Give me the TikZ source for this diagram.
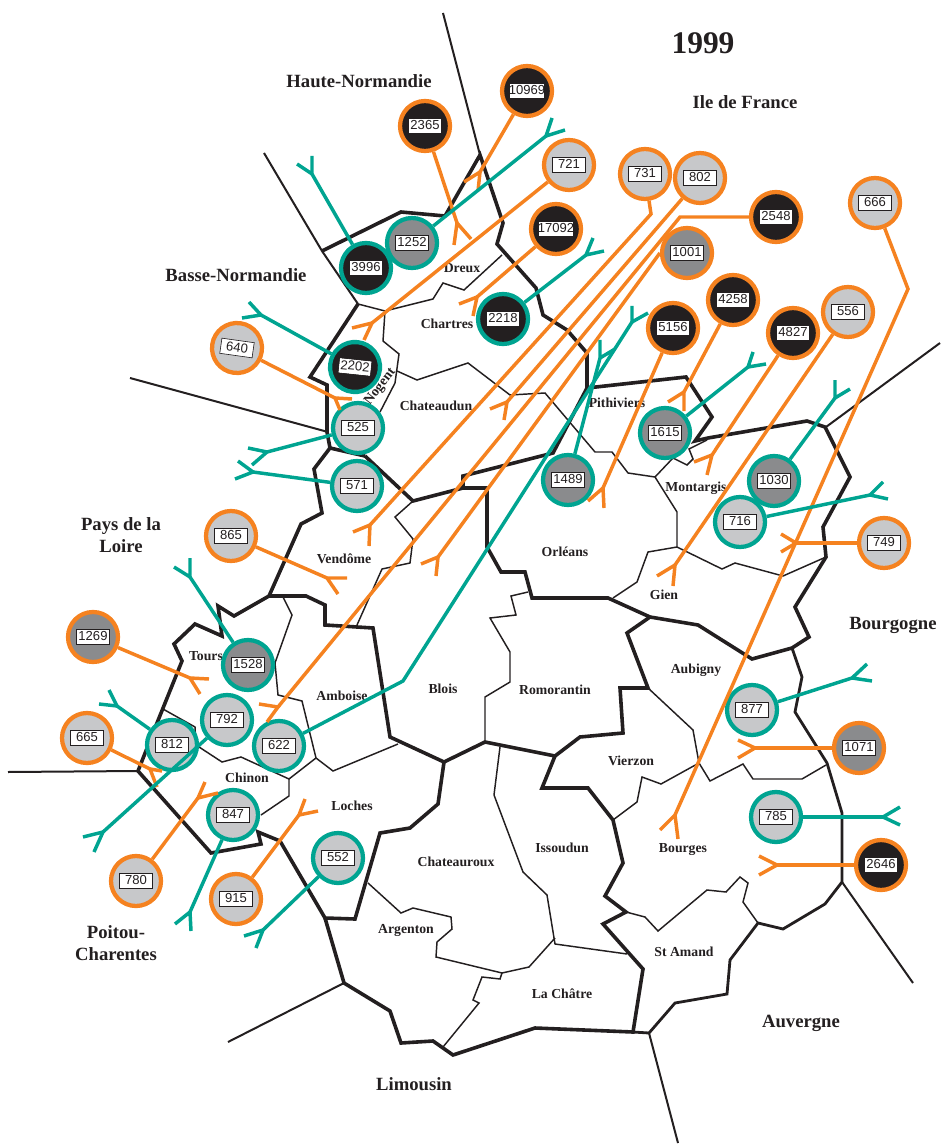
\documentclass[tikz,border=0pt]{standalone}
\usepackage{fontspec}
\setmainfont{Liberation Serif}
\newfontfamily\numfont{Liberation Sans}
\definecolor{ink}{HTML}{231F20}
\definecolor{midg}{HTML}{8A8B8D}
\definecolor{ligg}{HTML}{C7C8CA}
\definecolor{orng}{HTML}{F58220}
\definecolor{teel}{HTML}{00A491}
\newcommand\nb[2][24pt]{{\setlength\fboxsep{0pt}\setlength\fboxrule{.45pt}\fcolorbox{ink}{white}{\makebox[#1][c]{\rule[-2.7pt]{0pt}{11pt}\numfont\fontsize{9.8}{10}\selectfont\textcolor{ink}{#2}}}}}
\newcommand\conn[5]{\coordinate (f#2) at (#3);\coordinate (ta#2) at (#4);\coordinate (tb#2) at (#5);
 \draw[#1] (n#2) -- (f#2);\draw[#1] (ta#2) -- (f#2) -- (tb#2);}
\newcommand\connb[6]{\coordinate (b#2) at (#3);\coordinate (f#2) at (#4);\coordinate (ta#2) at (#5);\coordinate (tb#2) at (#6);
 \draw[#1] (n#2) -- (b#2) -- (f#2);\draw[#1] (ta#2) -- (f#2) -- (tb#2);}
\tikzset{
 x=0.75pt,y=-0.75pt,
 bdthick/.style={draw=ink,line width=2.7pt,line join=miter},
 bdmed/.style={draw=ink,line width=2.1pt,line join=miter},
 bdout/.style={draw=ink,line width=1.5pt},
 bdthin/.style={draw=ink,line width=1.1pt,line join=miter},
 ringo/.style={circle,draw=orng,line width=3.2pt,minimum size=37.5pt,inner sep=0pt},
 ringt/.style={circle,draw=teel,line width=3.2pt,minimum size=37.5pt,inner sep=0pt},
 fk/.style={fill=ink},
 gr/.style={fill=midg},
 lt/.style={fill=ligg},
 oline/.style={draw=orng,line width=2.6pt,line join=miter},
 tline/.style={draw=teel,line width=2.6pt,line join=miter},
 commune/.style={font=\bfseries\fontsize{10.3}{12}\selectfont,text=ink,inner sep=0pt,text height=7pt,text depth=0pt},
 region/.style={font=\bfseries\fontsize{14}{16.5}\selectfont,text=ink,inner sep=0pt,text height=8pt,text depth=0pt},
 regiontwo/.style={font=\bfseries\fontsize{14}{16.5}\selectfont,text=ink,inner sep=0pt,align=center},
}
\begin{document}
\begin{tikzpicture}
\useasboundingbox (0,0) rectangle (940,1144);
% outer lines
\draw[bdout] (443,13) -- (480,155);
\draw[bdout] (264,153) -- (322,251) -- (358,304);
\draw[bdout] (130,378) -- (328,432);
\draw[bdout] (8,772) -- (138,771);
\draw[bdout] (228,1042) -- (344,983);
\draw[bdout] (649,1033) -- (678,1143);
\draw[bdout] (842,882) -- (913,983);
\draw[bdout] (826,427) -- (940,343);
% thick region borders
\draw[bdthick] (322,251) -- (401,212) -- (445,216) -- (480,155) -- (503,223) -- (497,244) -- (536,288) -- (543,315) -- (567,330) -- (587,353) -- (587,388) -- (553,453) -- (463,476) -- (463,488) -- (413,501) -- (365,456);
\draw[bdthick] (587,388) -- (686,377) -- (712,417) -- (695,441) -- (708,438) -- (807,421) -- (825,427) -- (850,477) -- (823,527) -- (826,557) -- (795,607) -- (809,637) -- (792,648) -- (752,659) -- (698,625) -- (650,617) -- (608,598) -- (532,598) -- (525,572) -- (501,572) -- (487,547) -- (487,488) -- (463,488);
\draw[bdthick] (358,304) -- (310,377) -- (327,385) -- (327,432) -- (330,448) -- (314,469) -- (322,513) -- (301,524) -- (269,596) -- (234,616) -- (218,606) -- (222,636) -- (195,624) -- (174,644) -- (182,661) -- (157,723) -- (138,771) -- (211,853) -- (261,844) -- (258,832) -- (280,841) -- (325,918) -- (355,919) -- (380,833) -- (410,828) -- (438,804) -- (444,762) -- (390,737) -- (373,628) -- (325,625) -- (325,605) -- (306,596) -- (269,596);
\draw[bdthick] (330,448) -- (365,456);
\draw[bdthick] (444,762) -- (485,742) -- (555,756) -- (542,788) -- (588,788) -- (613,820) -- (623,863) -- (605,896) -- (626,912) -- (603,924) -- (643,969) -- (633,1032) -- (535,1028) -- (453,1055) -- (433,1041) -- (401,1043) -- (390,1011) -- (344,983) -- (325,918);
\draw[bdthick] (555,756) -- (580,737) -- (623,733) -- (620,688) -- (648,688) -- (627,633) -- (650,617);
\draw[bdmed] (633,1032) -- (649,1033) -- (675,1003) -- (727,994) -- (730,960) -- (758,923) -- (783,929) -- (825,904) -- (842,882) -- (842,813) -- (827,763) -- (795,712) -- (802,677) -- (792,648);
% thin commune borders
\draw[bdthin] (648,688) -- (693,730) -- (699,763) -- (661,784) -- (642,777) -- (637,802) -- (613,820);
\draw[bdthin] (699,763) -- (710,781) -- (743,764) -- (753,779) -- (802,779) -- (826,765);
\draw[bdthin] (626,912) -- (645,917) -- (658,931) -- (707,890) -- (726,892) -- (740,877) -- (748,883) -- (743,902) -- (758,923);
\draw[bdthin] (500,747) -- (494,795) -- (523,872) -- (547,895) -- (555,944) -- (627,954);
\draw[bdthin] (555,938) -- (529,967) -- (502,973) -- (436,957) -- (437,942) -- (452,929) -- (451,917) -- (413,908) -- (401,913) -- (368,883);
\draw[bdthin] (502,973) -- (500,979) -- (482,977) -- (473,1000) -- (479,1003) -- (443,1047);
\draw[bdthin] (528,592) -- (511,596) -- (516,615) -- (490,618) -- (510,652) -- (510,682) -- (485,697) -- (485,742);
\draw[bdthin] (413,501) -- (395,517) -- (413,539) -- (410,563) -- (382,569) -- (357,625);
\draw[bdthin] (613,598) -- (637,582) -- (648,552) -- (677,547) -- (677,512) -- (655,477) -- (628,473) -- (612,452) -- (595,452) -- (545,393) -- (510,395) -- (468,363) -- (417,380) -- (397,371);
\draw[bdthin] (655,477) -- (673,458) -- (687,465) -- (693,459) -- (689,449) -- (707,440);
\draw[bdthin] (677,547) -- (722,569) -- (735,563) -- (783,576) -- (826,557);
\draw[bdthin] (358,304) -- (385,311) -- (433,299) -- (443,283) -- (464,290) -- (502,255);
\draw[bdthin] (385,311) -- (383,341) -- (399,354) -- (395,383) -- (380,412);
\draw[bdthin] (283,597) -- (292,615) -- (275,663) -- (278,695) -- (302,701) -- (316,758) -- (333,771) -- (398,744);
\draw[bdthin] (163,709) -- (195,727) -- (196,745) -- (222,762) -- (241,757) -- (289,779) -- (316,758);
\draw[bdthin] (289,779) -- (289,796) -- (261,815);
% labels
\node[font=\bfseries\fontsize{23.6}{26}\selectfont,text=ink,inner sep=0pt] (tyear) at (703,43) {1999};
\node[region] (thn) at (359,82) {Haute-Normandie};
\node[region] (tidf) at (745,103) {Ile de France};
\node[region] (tbn) at (236,276) {Basse-Normandie};
\node[regiontwo] (tpl) at (121,535) {Pays de la\\Loire};
\node[region] (tbg) at (893,624) {Bourgogne};
\node[regiontwo] (tpc) at (116,943) {Poitou-\\Charentes};
\node[region] (tauv) at (801,1022) {Auvergne};
\node[region] (tlim) at (414,1085) {Limousin};
\node[commune] (cdr) at (462,268) {Dreux};
\node[commune] (cch) at (447,324) {Chartres};
\node[commune,rotate=52] (cno) at (379,386) {Nogent};
\node[commune] (cct) at (436,406) {Chateaudun};
\node[commune] (cpi) at (617,403) {Pithiviers};
\node[commune] (cmo) at (696,487) {Montargis};
\node[commune] (cve) at (344,559) {Vendôme};
\node[commune] (cor) at (565,552) {Orléans};
\node[commune] (cgi) at (664,595) {Gien};
\node[commune] (cto) at (206,656) {Tours};
\node[commune] (cam) at (342,696) {Amboise};
\node[commune] (cbl) at (443,689) {Blois};
\node[commune] (cro) at (555,690) {Romorantin};
\node[commune] (cau) at (696,669) {Aubigny};
\node[commune] (cvi) at (631,761) {Vierzon};
\node[commune] (cci) at (247,778) {Chinon};
\node[commune] (clo) at (352,806) {Loches};
\node[commune] (ccx) at (456,862) {Chateauroux};
\node[commune] (cis) at (562,848) {Issoudun};
\node[commune] (cbo) at (683,848) {Bourges};
\node[commune] (car) at (406,929) {Argenton};
\node[commune] (csa) at (684,952) {St Amand};
\node[commune] (clc) at (562,994) {La Châtre};
% circles
\node[ringo,fk] (n2365) at (425,126) {\nb{2365}};
\node[ringo,fk] (n10969) at (527,91) {\nb[26pt]{10969}};
\node[ringo,lt] (n721) at (569,165) {\nb{721}};
\node[ringo,fk] (n17092) at (556,229) {\nb[26pt]{17092}};
\node[ringo,lt] (n731) at (645,174) {\nb{731}};
\node[ringo,lt] (n802) at (700,178) {\nb{802}};
\node[ringo,fk] (n2548) at (776,217) {\nb{2548}};
\node[ringo,gr] (n1001) at (687,253) {\nb{1001}};
\node[ringo,fk] (n4258) at (733,300) {\nb{4258}};
\node[ringo,fk] (n5156) at (673,328) {\nb{5156}};
\node[ringo,fk] (n4827) at (793,333) {\nb{4827}};
\node[ringo,lt] (n556) at (848,312) {\nb{556}};
\node[ringo,lt] (n666) at (875,203) {\nb{666}};
\node[ringo,lt] (n749) at (884,543) {\nb{749}};
\node[ringo,gr] (n1071) at (859,748) {\nb{1071}};
\node[ringo,fk] (n2646) at (881,865) {\nb{2646}};
\node[ringo,lt,rotate=-8] (n640) at (237,348) {\nb{640}};
\node[ringo,lt] (n865) at (231,536) {\nb{865}};
\node[ringo,gr] (n1269) at (93,637) {\nb{1269}};
\node[ringo,lt] (n665) at (87,738) {\nb{665}};
\node[ringo,lt] (n780) at (136,881) {\nb{780}};
\node[ringo,lt] (n915) at (236,899) {\nb{915}};
\node[ringt,fk] (n3996) at (366,268) {\nb{3996}};
\node[ringt,gr] (n1252) at (412,243) {\nb{1252}};
\node[ringt,fk] (n2218) at (503,319) {\nb{2218}};
\node[ringt,fk,rotate=-6] (n2202) at (355,367) {\nb{2202}};
\node[ringt,lt] (n525) at (358,428) {\nb{525}};
\node[ringt,lt] (n571) at (357,486) {\nb{571}};
\node[ringt,gr] (n1489) at (568,480) {\nb{1489}};
\node[ringt,gr] (n1615) at (665,433) {\nb{1615}};
\node[ringt,gr] (n1030) at (774,481) {\nb{1030}};
\node[ringt,lt] (n716) at (740,522) {\nb{716}};
\node[ringt,gr] (n1528) at (248,665) {\nb{1528}};
\node[ringt,lt] (n792) at (227,720) {\nb{792}};
\node[ringt,lt] (n812) at (172,745) {\nb{812}};
\node[ringt,lt] (n622) at (279,746) {\nb{622}};
\node[ringt,lt] (n847) at (233,815) {\nb{847}};
\node[ringt,lt] (n552) at (338,858) {\nb{552}};
\node[ringt,lt] (n877) at (752,710) {\nb{877}};
\node[ringt,lt] (n785) at (776,817) {\nb{785}};
% orange connectors
\conn{oline}{2365}{457,223}{454,245}{471,239}
\conn{oline}{10969}{480,172}{464,182}{478,191}
\conn{oline}{721}{372,323}{352,328}{364,340}
\conn{oline}{17092}{477,297}{459,304}{473,316}
\connb{oline}{731}{651,214}{370,525}{353,532}{369,546}
\conn{oline}{802}{507,402}{490,409}{504,420}
\connb{oline}{2548}{680,217}{278,707}{259,704}{267,722}
\coordinate (f1001) at (438,557);\coordinate (ta1001) at (421,564);\coordinate (tb1001) at (436,576);
\draw[oline] (n1001.west) -- (f1001);\draw[oline] (ta1001) -- (f1001) -- (tb1001);
\conn{oline}{5156}{603,488}{588,501}{604,508}
\conn{oline}{4258}{684,392}{668,402}{684,411}
\conn{oline}{4827}{712,455}{694,462}{707,475}
\conn{oline}{556}{675,565}{657,576}{673,586}
\connb{oline}{666}{908,289}{675,815}{660,830}{678,839}
\conn{oline}{749}{796,543}{781,534}{781,552}
\conn{oline}{1071}{755,748}{738,740}{738,758}
\conn{oline}{2646}{777,865}{759,856}{759,875}
\conn{oline}{640}{335,398}{352,399}{340,410}
\conn{oline}{865}{327,578}{347,578}{338,594}
\conn{oline}{1269}{190,678}{209,679}{200,694}
\conn{oline}{665}{150,769}{162,771}{157,787}
\conn{oline}{780}{198,798}{218,793}{205,782}
\conn{oline}{915}{299,815}{318,811}{305,799}
% teal connectors
\conn{tline}{1252}{546,136}{565,130}{552,118}
\conn{tline}{3996}{312,174}{297,164}{312,156}
\conn{tline}{2218}{586,255}{604,251}{593,238}
\conn{tline}{2202}{261,315}{242,318}{249,302}
\conn{tline}{525}{267,452}{248,448}{252,465}
\conn{tline}{571}{253,472}{235,479}{238,461}
\conn{tline}{1528}{190,577}{174,567}{190,558}
\conn{tline}{812}{117,706}{99,704}{109,690}
\conn{tline}{792}{103,832}{83,837}{94,852}
\connb{tline}{622}{403,681}{632,322}{648,313}{632,306}
\conn{tline}{1489}{600,358}{615,349}{600,340}
\conn{tline}{1615}{748,367}{766,364}{753,352}
\conn{tline}{1030}{835,398}{850,389}{835,380}
\conn{tline}{716}{870,495}{888,499}{883,482}
\conn{tline}{847}{190,912}{175,924}{191,931}
\conn{tline}{552}{263,930}{244,936}{256,948}
\conn{tline}{877}{852,678}{872,681}{867,664}
\conn{tline}{785}{883,817}{900,807}{900,825}
\end{tikzpicture}
\end{document}
